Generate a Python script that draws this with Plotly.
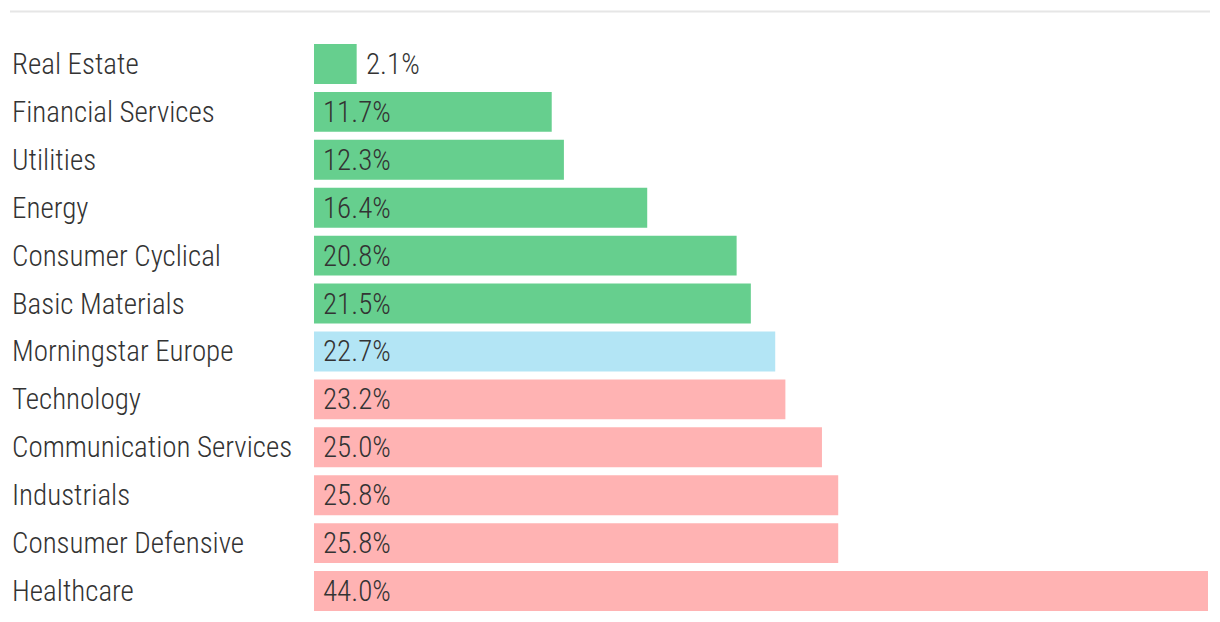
import plotly.graph_objects as go

categories = ["Real Estate", "Financial Services", "Utilities", "Energy", "Consumer Cyclical",
              "Basic Materials", "Morningstar Europe", "Technology", "Communication Services",
              "Industrials", "Consumer Defensive", "Healthcare"]
values = [2.1, 11.7, 12.3, 16.4, 20.8, 21.5, 22.7, 23.2, 25.0, 25.8, 25.8, 44.0]
groups = ["up", "up", "up", "up", "up", "up", "index", "down", "down", "down", "down", "down"]

palette = {"up": "#66CF8E", "index": "#B3E5F5", "down": "#FFB3B3"}
colors = [palette[g] for g in groups]

FONT = "Liberation Sans Narrow, Roboto Condensed, Roboto, sans-serif"
TXT = "#333333"
FS = 29

# page has an 8px body margin; size the figure so it fits the window
OFF = 8
W, H = 1220 - OFF, 622 - OFF
ml, mr, mt, mb = 314 - OFF, 12, 39.5 - OFF, 6.5
pw = W - ml - mr

fig = go.Figure(go.Bar(
    x=values, y=categories, orientation="h",
    marker=dict(color=colors, line=dict(width=0)),
    hoverinfo="skip",
))

ann = []
for c, v in zip(categories, values):
    ann.append(dict(x=(10 - OFF - ml) / pw, xref="paper", y=c, yref="y", text=c,
                    xanchor="left", yanchor="middle", showarrow=False,
                    font=dict(family=FONT, size=FS, color=TXT, weight=300)))
    if v < 5:
        ann.append(dict(x=v, xref="x", y=c, yref="y", text=f"{v:.1f}%", xshift=7,
                        xanchor="left", yanchor="middle", showarrow=False,
                        font=dict(family=FONT, size=FS, color=TXT, weight=300)))
    else:
        ann.append(dict(x=0, xref="x", y=c, yref="y", text=f"{v:.1f}%", xshift=7,
                        xanchor="left", yanchor="middle", showarrow=False,
                        font=dict(family=FONT, size=FS, color=TXT, weight=300)))

ly = (H - mb - (11 - OFF)) / (H - mt - mb)
fig.update_layout(
    width=W, height=H,
    margin=dict(l=ml, r=mr, t=mt, b=mb, pad=0),
    paper_bgcolor="white", plot_bgcolor="white",
    bargap=0.167,
    showlegend=False,
    xaxis=dict(range=[0, 44.0], visible=False, fixedrange=True),
    yaxis=dict(autorange="reversed", visible=False, fixedrange=True),
    annotations=ann,
    shapes=[dict(type="line", xref="paper", yref="paper",
                 x0=(10 - OFF - ml) / pw, x1=(1210 - OFF - ml) / pw,
                 y0=ly, y1=ly,
                 line=dict(color="#E6E6E6", width=2))],
)

fig.write_html("out.html")
